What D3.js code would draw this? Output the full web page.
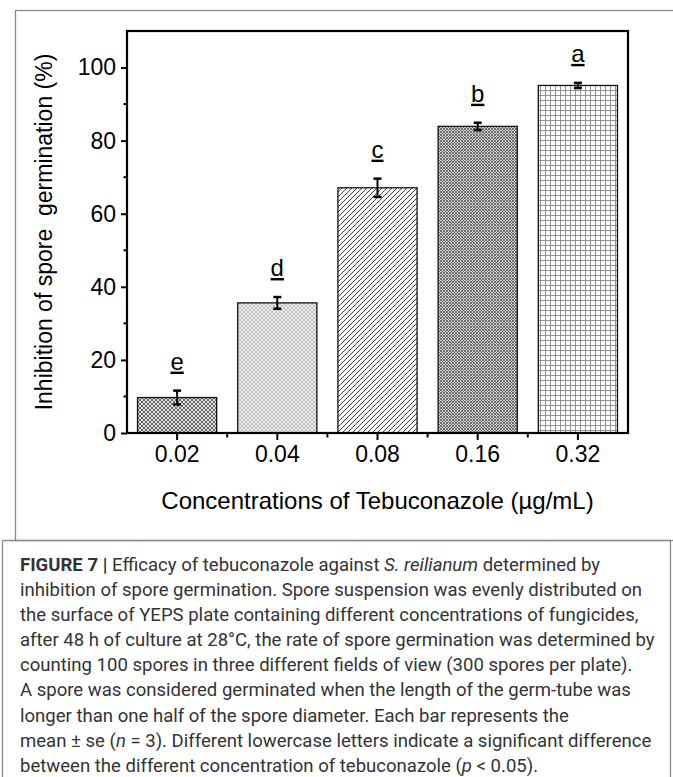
<!DOCTYPE html>
<html>
<head>
<meta charset="utf-8">
<script src="https://cdn.jsdelivr.net/npm/d3@7"></script>
<style>
  html, body { margin: 0; padding: 0; background: #fff; }
  svg { display: block; }
</style>
</head>
<body>
<div id="chart"></div>
<script>
// data
var concentrations = ["0.02", "0.04", "0.08", "0.16", "0.32"];
var inhibition = [9.7, 35.6, 67.1, 83.9, 95.1];
var stdErr = [1.9, 1.6, 2.5, 1.0, 0.7];
var letters = ["e", "d", "c", "b", "a"];
var yTicks = [0, 20, 40, 60, 80, 100];
var yMinor = [10, 30, 50, 70, 90];
var patternIds = ["pE", "pD", "pC", "pB", "pA"];

var captionLines = [
  [["FIGURE 7 | ", "b"], ["Efficacy of tebuconazole against ", ""], ["S. reilianum", "i"], [" determined by", ""]],
  [["inhibition of spore germination. Spore suspension was evenly distributed on", ""]],
  [["the surface of YEPS plate containing different concentrations of fungicides,", ""]],
  [["after 48 h of culture at 28°C, the rate of spore germination was determined by", ""]],
  [["counting 100 spores in three different fields of view (300 spores per plate).", ""]],
  [["A spore was considered germinated when the length of the germ-tube was", ""]],
  [["longer than one half of the spore diameter. Each bar represents the", ""]],
  [["mean ± se (", ""], ["n", "i"], [" = 3). Different lowercase letters indicate a significant difference", ""]],
  [["between the different concentration of tebuconazole (", ""], ["p", "i"], [" < 0.05).", ""]]
];

var W = 673, H = 777;
var plotL = 127, plotR = 628, plotT = 31, plotB = 433;

var svg = d3.select("#chart").append("svg")
    .attr("width", W)
    .attr("height", H);

// frames
svg.append("rect")
    .attr("x", 15.5).attr("y", 10.5)
    .attr("width", 670).attr("height", 530)
    .attr("fill", "none").attr("stroke", "#8a8a8a").attr("stroke-width", 1.3);
svg.append("path")
    .attr("d", "M2.5,540.5 V777 M670.5,540.5 V777 M2.5,540.5 H670.5")
    .attr("fill", "none").attr("stroke", "#8a8a8a").attr("stroke-width", 1.3);

// fill patterns
var defs = svg.append("defs");

var pe = defs.append("pattern").attr("id", "pE").attr("patternUnits", "userSpaceOnUse")
    .attr("width", 4).attr("height", 4);
pe.append("rect").attr("width", 4).attr("height", 4).attr("fill", "#e4e4e4");
pe.append("path").attr("d", "M0,0 L4,4 M4,0 L0,4").attr("stroke", "#555").attr("stroke-width", 0.9);

var pd = defs.append("pattern").attr("id", "pD").attr("patternUnits", "userSpaceOnUse")
    .attr("width", 4).attr("height", 4);
pd.append("rect").attr("width", 4).attr("height", 4).attr("fill", "#f1f1f1");
pd.append("path").attr("d", "M0,0 L4,4 M4,0 L0,4").attr("stroke", "#9a9a9a").attr("stroke-width", 0.6);

var pc = defs.append("pattern").attr("id", "pC").attr("patternUnits", "userSpaceOnUse")
    .attr("width", 5).attr("height", 5);
pc.append("rect").attr("width", 5).attr("height", 5).attr("fill", "#fafafa");
pc.append("path").attr("d", "M-1,6 L6,-1 M-1,1 L1,-1 M4,6 L6,4").attr("stroke", "#444").attr("stroke-width", 1);

var pb = defs.append("pattern").attr("id", "pB").attr("patternUnits", "userSpaceOnUse")
    .attr("width", 3).attr("height", 3);
pb.append("rect").attr("width", 3).attr("height", 3).attr("fill", "#d0d0d0");
pb.append("path").attr("d", "M0,0 L3,3 M3,0 L0,3").attr("stroke", "#555").attr("stroke-width", 0.8);

var pa = defs.append("pattern").attr("id", "pA").attr("patternUnits", "userSpaceOnUse")
    .attr("width", 5).attr("height", 5);
pa.append("rect").attr("width", 5).attr("height", 5).attr("fill", "#fdfdfd");
pa.append("path").attr("d", "M0,0.5 H5 M0.5,0 V5").attr("stroke", "#888").attr("stroke-width", 0.9);

// scales
var x = d3.scaleBand()
    .domain(concentrations)
    .range([plotL, plotR])
    .paddingInner(0.21)
    .paddingOuter(0.105);

var y = d3.scaleLinear()
    .domain([0, 110])
    .range([plotB, plotT]);

var rows = concentrations.map(function(c, i) {
    return { c: c, v: inhibition[i], se: stdErr[i], letter: letters[i], pat: patternIds[i] };
});

// bars
svg.selectAll(".bar")
    .data(rows)
    .enter()
    .append("rect")
    .attr("class", "bar")
    .attr("x", d => x(d.c))
    .attr("y", d => y(d.v))
    .attr("width", x.bandwidth())
    .attr("height", d => y(0) - y(d.v))
    .attr("fill", d => "url(#" + d.pat + ")")
    .attr("stroke", "#111")
    .attr("stroke-width", 1.3);

// error bars
var eb = svg.selectAll(".err")
    .data(rows)
    .enter()
    .append("g")
    .attr("class", "err")
    .attr("stroke", "#000")
    .attr("stroke-width", 2);

eb.append("line")
    .attr("x1", d => x(d.c) + x.bandwidth() / 2)
    .attr("x2", d => x(d.c) + x.bandwidth() / 2)
    .attr("y1", d => y(d.v + d.se))
    .attr("y2", d => y(d.v - d.se));
eb.append("line")
    .attr("x1", d => x(d.c) + x.bandwidth() / 2 - 4)
    .attr("x2", d => x(d.c) + x.bandwidth() / 2 + 4)
    .attr("y1", d => y(d.v + d.se))
    .attr("y2", d => y(d.v + d.se))
    .attr("stroke-width", 2.5);
eb.append("line")
    .attr("x1", d => x(d.c) + x.bandwidth() / 2 - 4)
    .attr("x2", d => x(d.c) + x.bandwidth() / 2 + 4)
    .attr("y1", d => y(d.v - d.se))
    .attr("y2", d => y(d.v - d.se))
    .attr("stroke-width", 2.5);

// significance letters
svg.selectAll(".letter")
    .data(rows)
    .enter()
    .append("text")
    .attr("class", "letter")
    .attr("x", d => x(d.c) + x.bandwidth() / 2)
    .attr("y", d => y(d.v + d.se) - 21)
    .attr("text-anchor", "middle")
    .attr("font-family", "Liberation Sans, Arial, sans-serif")
    .attr("font-size", 24)
    .attr("text-decoration", "underline")
    .attr("fill", "#000")
    .text(d => d.letter);

// axes
var axisY = d3.axisLeft(y)
    .tickValues(yTicks)
    .tickSize(6)
    .tickPadding(5)
    .tickFormat(d3.format("d"));

var gy = svg.append("g")
    .attr("transform", "translate(" + plotL + ",0)")
    .call(axisY);

gy.selectAll(".minor")
    .data(yMinor)
    .enter()
    .append("line")
    .attr("class", "minor")
    .attr("x1", -3.5).attr("x2", 0)
    .attr("y1", d => y(d)).attr("y2", d => y(d))
    .attr("stroke", "#000").attr("stroke-width", 2);

var axisX = d3.axisBottom(x)
    .tickSize(7)
    .tickPadding(6);

var gx = svg.append("g")
    .attr("transform", "translate(0," + plotB + ")")
    .call(axisX);

gx.selectAll(".minor")
    .data(concentrations.slice(1))
    .enter()
    .append("line")
    .attr("class", "minor")
    .attr("x1", d => x(d) - x.step() * x.paddingInner() / 2)
    .attr("x2", d => x(d) - x.step() * x.paddingInner() / 2)
    .attr("y1", 0).attr("y2", 4.5)
    .attr("stroke", "#000").attr("stroke-width", 2);

[gx, gy].forEach(function(g) {
    g.select(".domain").remove();
    g.selectAll(".tick line").attr("stroke", "#000").attr("stroke-width", 2);
    g.selectAll("text")
        .attr("font-family", "Liberation Sans, Arial, sans-serif")
        .attr("font-size", 23)
        .attr("fill", "#000");
});

// plot frame
svg.append("rect")
    .attr("x", plotL).attr("y", plotT)
    .attr("width", plotR - plotL).attr("height", plotB - plotT)
    .attr("fill", "none").attr("stroke", "#000").attr("stroke-width", 2.2);

// axis titles
svg.append("text")
    .attr("x", (plotL + plotR) / 2)
    .attr("y", 509)
    .attr("text-anchor", "middle")
    .attr("font-family", "Liberation Sans, Arial, sans-serif")
    .attr("font-size", 24)
    .text("Concentrations of Tebuconazole (\u00b5g/mL)");

svg.append("text")
    .attr("transform", "translate(52," + (plotT + plotB) / 2 + ") rotate(-90)")
    .attr("text-anchor", "middle")
    .attr("font-family", "Liberation Sans, Arial, sans-serif")
    .attr("font-size", 23)
    .style("white-space", "pre")
    .text("Inhibition of spore  germination (%)");

// caption
var cap = svg.append("g")
    .attr("font-family", "Roboto, sans-serif")
    .attr("font-size", 18.5)
    .attr("fill", "#333");

var capLines = cap.selectAll("text")
    .data(captionLines)
    .enter()
    .append("text")
    .attr("x", 0)
    .attr("y", (d, i) => 571 + i * 25.1);

capLines.selectAll("tspan")
    .data(d => d)
    .enter()
    .append("tspan")
    .attr("font-weight", d => d[1] === "b" ? "bold" : null)
    .attr("font-style", d => d[1] === "i" ? "italic" : null)
    .text(d => d[0]);

// narrow the caption so the widest line spans the same width as the figure's
var widest = d3.max(capLines.nodes(), n => n.getComputedTextLength());
cap.attr("transform", "translate(20,0) scale(" + (635 / widest) + ",1)");
</script>
</body>
</html>
